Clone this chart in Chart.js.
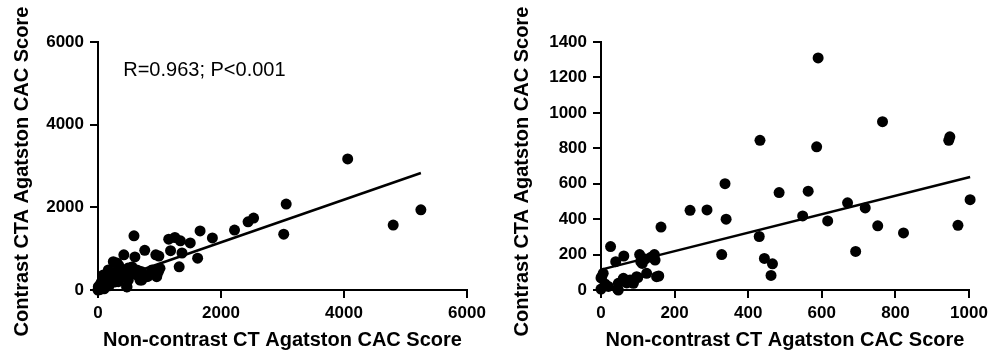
<!DOCTYPE html>
<html>
<head>
<meta charset="utf-8">
<script src="https://cdn.jsdelivr.net/npm/chart.js@4/dist/chart.umd.min.js"></script>
<style>
  html, body { margin: 0; padding: 0; background: #fff; }
  body { width: 1003px; height: 356px; position: relative; overflow: hidden; }
  .wrap { position: absolute; top: 0; height: 356px; }
</style>
</head>
<body>
<div class="wrap" style="left:0;width:500px"><canvas id="c1" width="500" height="356"></canvas></div>
<div class="wrap" style="left:500px;width:503px"><canvas id="c2" width="503" height="356"></canvas></div>
<script>
// ---- Data ----
const leftX = [0,5,10,20,30,40,50,60,80,86,100,100,120,150,160,168,180,200,220,249,250,276,300,309,330,330,340,380,406,420,450,466,472,490,493,520,548,553,585,600,600,629,634,667,683,711,711,760,792,810,878,940,954,959,981,990,1008,1150,1180,1250,1320,1340,1366,1500,1620,1660,1860,2220,2440,2530,3020,3060,4060,4800,5250];
const leftY = [0,81,30,80,10,150,60,200,120,363,30,250,180,300,410,484,100,350,250,685,400,194,450,653,200,605,580,350,484,850,300,81,73,530,242,400,549,556,1310,800,450,484,363,460,242,443,242,960,322,330,484,850,322,363,443,820,524,1230,950,1270,560,1190,895,1140,770,1430,1260,1450,1650,1740,1350,2080,3170,1570,1940];
const leftFitX = [0, 5250];
const leftFitY = [121, 2830];
const leftXTicks = [0, 2000, 4000, 6000];
const leftYTicks = [0, 2000, 4000, 6000];

const rightX = [0,0,2,6,11,20,26,40,45,47,47,60,62,61,70,79,83,88,97,100,105,108,112,120,124,136,145,147,151,157,163,242,288,328,337,340,430,432,444,462,466,484,548,563,586,590,616,670,692,718,752,765,822,945,948,970,1003];
const rightY = [5,68,75,94,34,20,245,160,5,38,0,60,192,66,40,56,47,38,75,70,200,160,150,175,94,185,200,169,75,79,355,450,452,200,600,400,302,845,178,82,148,550,418,558,808,1310,390,492,218,463,362,950,322,845,865,365,510];
const rightFitX = [0, 1003];
const rightFitY = [115, 638];
const rightXTicks = [0, 200, 400, 600, 800, 1000];
const rightYTicks = [0, 200, 400, 600, 800, 1000, 1200, 1400];

const xTitle = 'Non-contrast CT Agatston CAC Score';
const yTitle = 'Contrast CTA Agatston CAC Score';
const annotation = { text: 'R=0.963; P<0.001', x: 410, y: 5300 };

// ---- Helpers ----
const FONT = 'Arial, "Liberation Sans", sans-serif';
const toPts = (xs, ys) => xs.map((x, i) => ({ x, y: ys[i] }));

function makeChart(id, cfg) {
  const annPlugin = {
    id: 'ann',
    afterDraw(chart) {
      if (!cfg.annotation) return;
      const { ctx, scales } = chart;
      ctx.save();
      ctx.font = '20px ' + FONT;
      ctx.fillStyle = '#000';
      ctx.textBaseline = 'middle';
      ctx.textAlign = 'left';
      ctx.fillText(cfg.annotation.text,
        scales.x.getPixelForValue(cfg.annotation.x),
        scales.y.getPixelForValue(cfg.annotation.y));
      ctx.restore();
    }
  };
  return new Chart(document.getElementById(id), {
    type: 'scatter',
    data: {
      datasets: [
        {
          data: toPts(cfg.fitX, cfg.fitY),
          type: 'line',
          showLine: true,
          borderColor: '#000',
          borderWidth: 2.5,
          pointRadius: 0,
          fill: false,
          clip: false,
          order: 2
        },
        {
          data: toPts(cfg.xs, cfg.ys),
          backgroundColor: '#000',
          borderColor: '#000',
          borderWidth: 0,
          pointRadius: 5.5,
          pointHoverRadius: 5.5,
          clip: false,
          order: 1
        }
      ]
    },
    options: {
      responsive: false,
      animation: false,
      events: [],
      layout: { padding: { top: 42, right: cfg.padRight, left: 0, bottom: 0 } },
      plugins: { legend: { display: false }, tooltip: { enabled: false } },
      scales: {
        x: {
          type: 'linear',
          min: cfg.xTicks[0],
          max: cfg.xTicks[cfg.xTicks.length - 1],
          afterBuildTicks: s => { s.ticks = cfg.xTicks.map(v => ({ value: v })); },
          ticks: { color: '#000', font: { family: FONT, size: 17, weight: 'bold' }, padding: 5, maxRotation: 0, autoSkip: false, callback: v => String(v) },
          grid: { drawOnChartArea: false, drawTicks: true, tickLength: 8, color: '#000', lineWidth: 2 },
          border: { display: true, color: '#000', width: 2 },
          title: { display: true, text: xTitle, color: '#000', font: { family: FONT, size: 20, weight: 'bold' }, padding: { top: 0, bottom: 4 } },
          afterFit: s => { s.height = 66; }
        },
        y: {
          type: 'linear',
          min: cfg.yTicks[0],
          max: cfg.yTicks[cfg.yTicks.length - 1],
          afterBuildTicks: s => { s.ticks = cfg.yTicks.map(v => ({ value: v })); },
          ticks: { color: '#000', font: { family: FONT, size: 17, weight: 'bold' }, padding: 6, autoSkip: false, callback: v => String(v) },
          grid: { drawOnChartArea: false, drawTicks: true, tickLength: 8, color: '#000', lineWidth: 2 },
          border: { display: true, color: '#000', width: 2 },
          title: { display: true, text: yTitle + '\u00A0\u00A0', color: '#000', font: { family: FONT, size: 20, weight: 'bold' }, padding: { top: 10, bottom: 0 } },
          afterFit: s => { s.width = cfg.yWidth; }
        }
      }
    },
    plugins: [annPlugin]
  });
}

makeChart('c1', {
  xs: leftX, ys: leftY, fitX: leftFitX, fitY: leftFitY,
  xTicks: leftXTicks, yTicks: leftYTicks,
  yWidth: 98, padRight: 33, annotation: annotation
});
makeChart('c2', {
  xs: rightX, ys: rightY, fitX: rightFitX, fitY: rightFitY,
  xTicks: rightXTicks, yTicks: rightYTicks,
  yWidth: 101, padRight: 34, annotation: null
});
</script>
</body>
</html>
